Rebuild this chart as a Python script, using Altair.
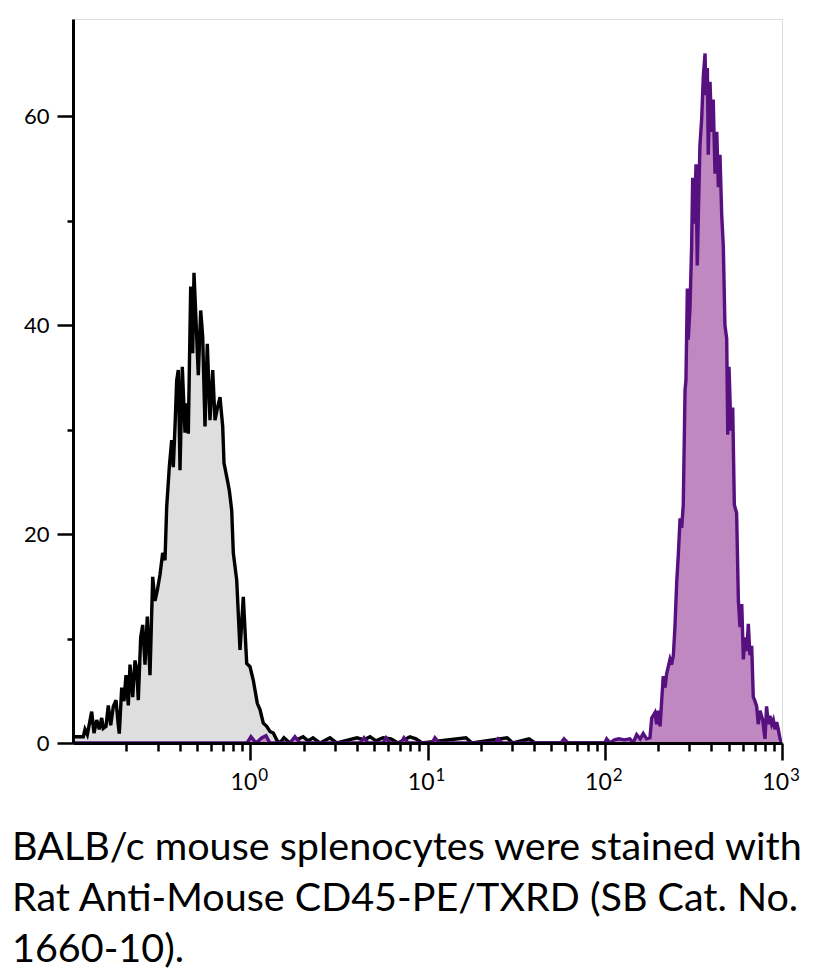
import altair as alt
import pandas as pd

# ---- data (log10 of fluorescence intensity, cell count) ----
gray_log_intensity = [
    -1.000, -0.9887, -0.9419, -0.9323, -0.9193, -0.8945, -0.8815, -0.8663, -0.8516, -0.8381,
    -0.8291, -0.8138, -0.8008, -0.7873, -0.7726, -0.7574, -0.7444, -0.7388, -0.7252, -0.7123,
    -0.7010, -0.6880, -0.6784, -0.6632, -0.6502, -0.6406, -0.6316, -0.6181, -0.6068, -0.5938,
    -0.5808, -0.5656, -0.5504, -0.5374, -0.5244, -0.5092, -0.4939, -0.4810, -0.4714, -0.4567,
    -0.4432, -0.4341, -0.4245, -0.4150, -0.4059, -0.3963, -0.3834, -0.3681, -0.3585, -0.3495,
    -0.3360, -0.3247, -0.3174, -0.3061, -0.2931, -0.2796, -0.2683, -0.2553, -0.2423, -0.2271,
    -0.2118, -0.1989, -0.1859, -0.1707, -0.1554, -0.1481, -0.1329, -0.1182, -0.1047, -0.0956,
    -0.0764, -0.0578, -0.0392, -0.0200, -0.0014, 0.0172, 0.0398, 0.0550, 0.0736, 0.0928,
    0.1114, 0.1300, 0.1492, 0.1678, 0.190, 0.224, 0.298, 0.326, 0.354, 0.394,
    0.450, 0.489, 0.602, 0.642, 0.676, 0.709, 0.749, 0.794, 0.834, 0.901,
    0.935, 0.969, 1.217, 1.251, 1.449, 1.482, 1.573, 1.606, 3.000,
]
gray_count = [
    0.6, 0.6, 0.6, 1.3, 0.8, 3.0, 0.95, 2.2, 1.3, 2.4,
    1.4, 1.6, 3.6, 1.7, 3.5, 4.1, 1.7, 0.9, 5.3, 4.0,
    6.5, 3.6, 7.5, 4.4, 7.9, 7.1, 4.1, 10.1, 11.3, 7.5,
    12.1, 6.5, 15.9, 13.6, 14.6, 16.1, 18.2, 17.5, 22.6, 26.4,
    29.0, 26.4, 30.3, 34.7, 35.7, 26.1, 36.0, 29.7, 32.5, 29.6,
    43.7, 37.3, 45.0, 40.5, 35.2, 41.4, 38.9, 30.3, 38.2, 30.9,
    35.7, 30.9, 32.0, 33.1, 30.3, 26.8, 25.5, 24.2, 22.3, 18.2,
    15.6, 8.9, 14.0, 7.6, 7.3, 6.0, 3.8, 3.2, 1.9, 1.6,
    1.1, 0.95, 0.3, 0.0, 0.5, 0.0, 0.6, 0.2, 0.5, 0.0,
    0.5, 0.0, 0.5, 0.3, 0.6, 0.2, 0.5, 0.4, 0.0, 0.6,
    0.4, 0.0, 0.5, 0.0, 0.5, 0.0, 0.4, 0.0, 0.0,
]

purple_log_intensity = [
    -1.000, -0.018, 0.004, 0.032, 0.066, 0.089, 0.111, 0.224, 0.252, 0.281,
    0.619, 0.642, 0.664, 0.749, 0.766, 0.788, 0.850, 0.867, 0.890, 1.025,
    1.042, 1.065, 1.381, 1.398, 1.420, 1.753, 1.770, 1.793, 2.000, 2.011,
    2.030, 2.055, 2.080, 2.110, 2.142, 2.160, 2.180, 2.200, 2.217, 2.236,
    2.255, 2.265, 2.283, 2.293, 2.302, 2.312, 2.321, 2.330, 2.340, 2.349,
    2.368, 2.377, 2.387, 2.396, 2.406, 2.415, 2.425, 2.434, 2.443, 2.453,
    2.458, 2.466, 2.471, 2.481, 2.490, 2.496, 2.505, 2.515, 2.522, 2.528,
    2.537, 2.547, 2.556, 2.566, 2.571, 2.579, 2.584, 2.594, 2.603, 2.612,
    2.622, 2.632, 2.641, 2.650, 2.660, 2.669, 2.678, 2.688, 2.694, 2.701,
    2.712, 2.722, 2.731, 2.744, 2.754, 2.763, 2.773, 2.782, 2.791, 2.801,
    2.810, 2.819, 2.829, 2.838, 2.848, 2.857, 2.866, 2.876, 2.891, 2.904,
    2.913, 2.923, 2.932, 2.942, 2.951, 2.961, 2.970, 2.979, 2.989, 2.998,
]
purple_count = [
    0.0, 0.0, 0.6, 0.0, 0.5, 0.7, 0.0, 0.0, 0.6, 0.0,
    0.0, 0.5, 0.0, 0.0, 0.5, 0.0, 0.0, 0.5, 0.0, 0.0,
    0.5, 0.0, 0.0, 0.4, 0.0, 0.0, 0.4, 0.0, 0.0, 0.4,
    0.0, 0.3, 0.4, 0.3, 0.4, 0.0, 0.8, 0.4, 0.9, 0.4,
    0.5, 2.4, 2.9, 1.8, 3.1, 1.6, 4.0, 6.4, 5.3, 6.6,
    8.0, 7.5, 8.4, 11.1, 15.4, 18.0, 21.5, 20.6, 22.8, 33.8,
    34.7, 43.5, 38.6, 41.7, 47.5, 54.1, 49.7, 55.4, 45.7, 50.5,
    57.2, 59.8, 63.8, 66.0, 62.0, 64.6, 56.3, 63.3, 58.5, 61.6,
    54.5, 58.5, 53.2, 56.3, 50.5, 47.5, 40.0, 38.7, 29.5, 36.0,
    29.9, 32.1, 22.8, 22.0, 13.6, 11.1, 13.3, 8.0, 10.1, 8.8,
    11.4, 8.4, 9.3, 4.4, 4.0, 3.5, 1.8, 3.1, 2.2, 0.4,
    3.5, 1.8, 2.6, 1.8, 2.2, 1.3, 2.0, 1.3, 0.4, 0.0,
]

x_major_ticks = [1, 10, 100, 1000]
x_tick_base = ["10", "10", "10", "10"]
x_tick_exponent = ["0", "1", "2", "3"]
x_minor_ticks = [0.2, 0.3, 0.4, 0.5, 0.6, 0.7, 0.8, 0.9,
                 2, 3, 4, 5, 6, 7, 8, 9,
                 20, 30, 40, 50, 60, 70, 80, 90,
                 200, 300, 400, 500, 600, 700, 800, 900]
y_major_ticks = [0, 20, 40, 60]
y_minor_ticks = [10, 30, 50]

caption_lines = [
    "BALB/c mouse splenocytes were stained with",
    "Rat Anti-Mouse CD45-PE/TXRD (SB Cat. No.",
    "1660-10).",
]

assert len(gray_log_intensity) == len(gray_count)
assert len(purple_log_intensity) == len(purple_count)

gray_df = pd.DataFrame({"logx": gray_log_intensity, "count": gray_count})
purple_df = pd.DataFrame({"logx": purple_log_intensity, "count": purple_count})
tick_df = pd.DataFrame({"v": x_major_ticks, "base": x_tick_base, "exp": x_tick_exponent})

FONT = "Lato, sans-serif"

x_scale = alt.Scale(type="log", domain=[0.1, 1000], nice=False)
y_scale = alt.Scale(domain=[0, 69.3], nice=False, zero=True)

major_x_axis = alt.Axis(
    values=x_major_ticks, labels=False, orient="bottom", title=None, grid=False,
    tickSize=17, tickWidth=2.5, tickColor="black", domainWidth=3, domainColor="black",
    zindex=1,
)
minor_x_axis = alt.Axis(
    values=x_minor_ticks, labels=False, orient="bottom", title=None, grid=False,
    tickSize=8, tickWidth=2.5, tickColor="black", domain=False, zindex=1,
)
major_y_axis = alt.Axis(
    values=y_major_ticks, orient="left", title=None, grid=False,
    tickSize=16, tickWidth=2.5, tickColor="black", domainWidth=3, domainColor="black",
    labelFont=FONT, labelFontSize=22, labelColor="black", labelPadding=8, zindex=1,
)
minor_y_axis = alt.Axis(
    values=y_minor_ticks, labels=False, orient="left", title=None, grid=False,
    tickSize=6, tickWidth=2.5, tickColor="black", domain=False, zindex=1,
)


def base(df):
    return alt.Chart(df).transform_calculate(x="pow(10, datum.logx)")


gray_area = base(gray_df).mark_area(color="#dedede", clip=True).encode(
    x=alt.X("x:Q", scale=x_scale, axis=major_x_axis),
    y=alt.Y("count:Q", scale=y_scale, axis=major_y_axis),
)
gray_line = base(gray_df).mark_line(color="black", strokeWidth=3.4, clip=True).encode(
    x=alt.X("x:Q", scale=x_scale, axis=None),
    y=alt.Y("count:Q", scale=y_scale, axis=None),
)
purple_area = base(purple_df).mark_area(color="#c088c0", clip=True).encode(
    x=alt.X("x:Q", scale=x_scale, axis=None),
    y=alt.Y("count:Q", scale=y_scale, axis=None),
)
purple_line = base(purple_df).mark_line(color="#56107f", strokeWidth=3.4, clip=True).encode(
    x=alt.X("x:Q", scale=x_scale, axis=minor_x_axis),
    y=alt.Y("count:Q", scale=y_scale, axis=minor_y_axis),
)

tick_base_text = alt.Chart(tick_df).mark_text(
    font=FONT, fontSize=23, color="black", align="right", baseline="alphabetic", dx=7
).encode(
    x=alt.X("v:Q", scale=x_scale, axis=None),
    y=alt.value(771),
    text="base:N",
)
tick_exp_text = alt.Chart(tick_df).mark_text(
    font=FONT, fontSize=17, color="black", align="left", baseline="alphabetic", dx=8
).encode(
    x=alt.X("v:Q", scale=x_scale, axis=None),
    y=alt.value(762),
    text="exp:N",
)

chart = (
    alt.layer(gray_area, gray_line, purple_area, purple_line, tick_base_text, tick_exp_text)
    .resolve_axis(x="independent", y="independent")
    .properties(
        width=709,
        height=724,
        padding={"left": 65, "top": 11, "right": 26, "bottom": 229},
        autosize=alt.AutoSizeParams(type="none"),
        title=alt.TitleParams(
            text=caption_lines, orient="bottom", anchor="start", frame="group",
            dx=-61, offset=34, font=FONT, fontSize=39.5, fontWeight="normal",
            color="black", lineHeight=51, baseline="top",
        ),
    )
    .configure_view(stroke="black", strokeWidth=3)
    .configure(background="white")
)

chart.save("out.html", embed_options={"renderer": "svg", "actions": False})
